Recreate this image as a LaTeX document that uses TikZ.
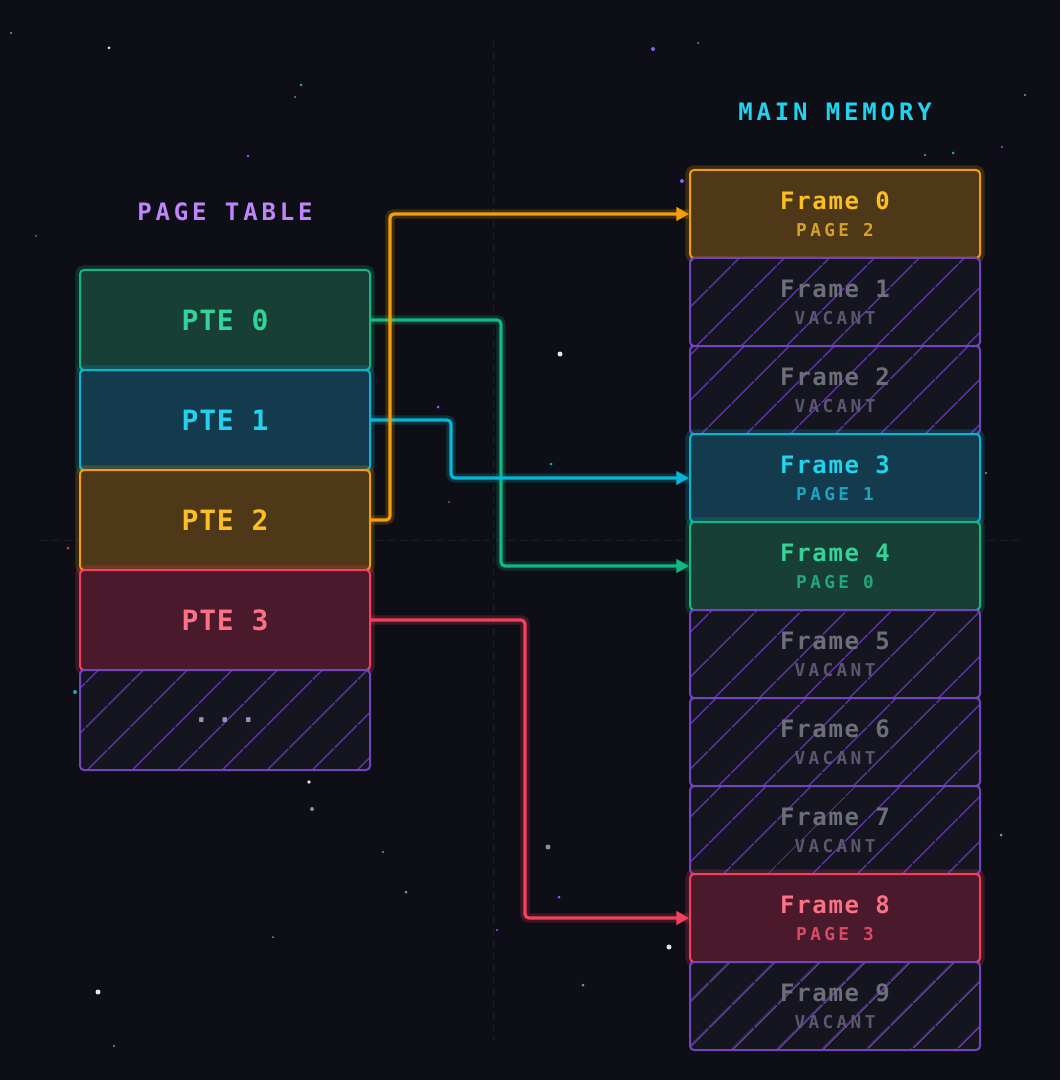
\documentclass[tikz,border=0pt]{standalone}
\usepackage{fontspec}
\usetikzlibrary{arrows.meta,patterns.meta}
\setmonofont{DejaVu Sans Mono}
\newfontfamily\headfont{DejaVu Sans Mono}[LetterSpace=16]
\newfontfamily\ptefont{DejaVu Sans Mono}[LetterSpace=3]
\newfontfamily\frmfont{DejaVu Sans Mono}[LetterSpace=7]
\newfontfamily\pagefont{DejaVu Sans Mono}[LetterSpace=19]
\newfontfamily\dotsfont{DejaVu Sans Mono}[LetterSpace=28]

\definecolor{bgc}{HTML}{0E0F16}
\definecolor{guidec}{HTML}{1D1E27}
\definecolor{tblT}{HTML}{C084FC}
\definecolor{memT}{HTML}{22D3EE}
\definecolor{grnB}{HTML}{10B981}
\definecolor{grnF}{HTML}{173F35}
\definecolor{grnT}{HTML}{34D399}
\definecolor{grnS}{HTML}{22A87A}
\definecolor{cynB}{HTML}{06B6D4}
\definecolor{cynF}{HTML}{133B4D}
\definecolor{cynT}{HTML}{22D3EE}
\definecolor{cynS}{HTML}{1AA6C2}
\definecolor{ambB}{HTML}{F59E0B}
\definecolor{ambF}{HTML}{4E3817}
\definecolor{ambT}{HTML}{FBBF24}
\definecolor{ambS}{HTML}{D4A12A}
\definecolor{rosB}{HTML}{F43F5E}
\definecolor{rosF}{HTML}{4A1A2C}
\definecolor{rosT}{HTML}{FB7185}
\definecolor{rosS}{HTML}{D94A66}
\definecolor{vacB}{HTML}{7443BE}
\definecolor{vacF}{HTML}{15151F}
\definecolor{vacH}{HTML}{5A2F9E}
\definecolor{vacT}{HTML}{6E6E7A}
\definecolor{vacS}{HTML}{5C5670}
\definecolor{dotc}{HTML}{A08EC0}
\definecolor{starW}{HTML}{8E8E98}
\definecolor{starB}{HTML}{E4E4EA}
\definecolor{starT}{HTML}{1AA6B5}
\definecolor{starP}{HTML}{8B5CF6}
\definecolor{starR}{HTML}{C0444A}

\begin{document}
\begin{tikzpicture}[x=0.75pt,y=-0.75pt,
  box/.style={rectangle,rounded corners=3pt,line width=1.5pt,inner sep=0pt,
    minimum width=217.5pt},
  pte/.style={box,minimum height=75pt,
    font=\ptefont\bfseries\fontsize{21pt}{24pt}\selectfont},
  frm/.style={box,minimum height=66pt},
  glow/.style={preaction={draw=#1,line width=7pt,draw opacity=0.2}},
  grn/.style={fill=grnF,draw=grnB,text=grnT,glow=grnB},
  cyn/.style={fill=cynF,draw=cynB,text=cynT,glow=cynB},
  amb/.style={fill=ambF,draw=ambB,text=ambT,glow=ambB},
  ros/.style={fill=rosF,draw=rosB,text=rosT,glow=rosB},
  vac/.style={preaction={fill=vacF},draw=vacB,pattern color=vacH,
    pattern={Lines[angle=45,distance=24.5pt,line width=1.3pt]}},
  ttl/.style={inner sep=0pt,font=\frmfont\bfseries\fontsize{18pt}{21pt}\selectfont},
  usage/.style={inner sep=0pt,font=\pagefont\bfseries\fontsize{13.3pt}{15pt}\selectfont},
  head/.style={inner sep=0pt,font=\headfont\bfseries\fontsize{18pt}{21pt}\selectfont},
  link/.style={line width=2.4pt,rounded corners=3pt,draw=#1,
    preaction={draw=#1,line width=7pt,draw opacity=0.2,-},
    -{Triangle[length=9.5pt,width=10pt]}},
  guide/.style={draw=guidec,line width=0.75pt,dash pattern=on 5pt off 4pt}]
\useasboundingbox (0,0) rectangle (1060,1080);
\fill[bgc] (0,0) rectangle (1060,1080);
\draw[guide] (493,40) -- (493,1040);
\draw[guide] (40,540) -- (1020,540);
% stars
\foreach \sx/\sy/\sc/\sr in {11/33/starW/1.2,109/48/starB/1.5,301/85/starT/1.5,
  295/97/starW/1,248/156/starP/1.3,36/236/starT/1,653/49/starP/2,698/43/starW/1,
  1025/95/starW/1.2,925/155/starW/1.2,953/153/starT/1.5,1002/147/starP/1.2,
  682/181/starP/2,951/226/starR/1.2,86/283/starW/1,560/354/starB/2.5,
  438/407/starP/1.5,360/432/starW/1,551/464/starT/1.5,449/502/starP/1,
  123/474/starW/1.2,986/473/starW/1.2,68/548/starR/1.5,968/580/starW/1,
  75/692/starT/2,309/782/starB/1.8,312/809/starW/2,548/847/starW/2.5,
  383/852/starW/1.2,406/892/starW/1.5,559/897/starP/1.5,497/930/starP/1.2,
  273/937/starW/1,669/947/starB/2.5,1001/835/starW/1.5,583/985/starW/1.5,
  98/992/starB/2.5,114/1046/starW/1.2}
  \fill[\sc] (\sx,\sy) circle[radius=\sr*0.75pt];

% titles
\node[head,text=tblT] (tbltitle) at (225,212) {PAGE TABLE};
\node[head,text=memT] (memtitle) at (835,112) {MAIN MEMORY};

% page table
\node[pte,grn] (pte0) at (225,320) {PTE 0};
\node[pte,cyn] (pte1) at (225,420) {PTE 1};
\node[pte,amb] (pte2) at (225,520) {PTE 2};
\node[pte,ros] (pte3) at (225,620) {PTE 3};
\node[pte,vac,text=dotc,font=\dotsfont\bfseries\fontsize{20pt}{23pt}\selectfont]
  (pte4) at (225,720) {...};

% main memory
\foreach \i/\k/\u in {0/amb/PAGE 2,1/vac/VACANT,2/vac/VACANT,3/cyn/PAGE 1,
  4/grn/PAGE 0,5/vac/VACANT,6/vac/VACANT,7/vac/VACANT,8/ros/PAGE 3,9/vac/VACANT}{
  \node[frm,\k] (frame\i) at (835,214+88*\i) {};
  \node[ttl,text=\k T] (frame\i-no) at ([yshift=9.75pt]frame\i.center) {Frame \i};
  \node[usage,text=\k S] (frame\i-use) at ([yshift=-12pt]frame\i.center) {\u};
}

% mappings
\draw[link=grnB] (pte0.east) -- ++(130,0) |- (frame4.west);
\draw[link=cynB] (pte1.east) -- ++(80,0) |- (frame3.west);
\draw[link=ambB] (pte2.east) -- ++(19,0) |- (frame0.west);
\draw[link=rosB] (pte3.east) -- ++(154,0) |- (frame8.west);
\end{tikzpicture}
\end{document}
